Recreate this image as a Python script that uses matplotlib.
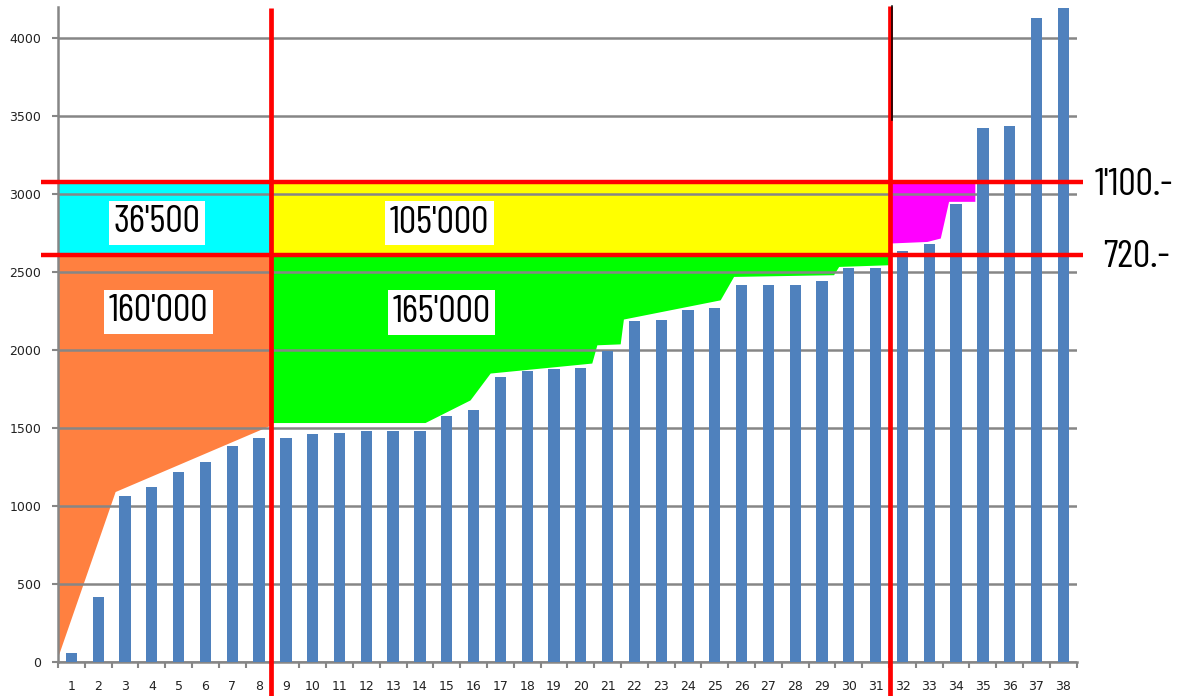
import numpy as np
import matplotlib
matplotlib.use("Agg")
import matplotlib.pyplot as plt
from matplotlib import font_manager

# bar heights (categories 1..38)
categories = [str(i) for i in range(1, 39)]
values = [60, 420, 1065, 1125, 1220, 1285, 1385, 1435, 1435, 1460,
          1468, 1485, 1485, 1485, 1575, 1615, 1830, 1863, 1878, 1885,
          1996, 2186, 2194, 2258, 2267, 2414, 2414, 2414, 2440, 2528,
          2528, 2638, 2679, 2936, 3421, 3436, 4128, 4194]

# price levels (horizontal red lines) and group borders (vertical red lines)
level_low = 2610
level_high = 3080
split_1 = 7.45
split_2 = 30.52

# lower edges of the coloured areas
orange_x = [-0.5, 1.63, split_1]
orange_low = [40, 1094, 1521]
green_x = [split_1, 13.19, 14.87, 15.62, 19.41, 19.60, 20.47, 20.59, 24.2, 24.7, 28.43, 28.62, split_2]
green_low = [1536, 1536, 1681, 1853, 1917, 2034, 2040, 2199, 2322, 2472, 2483, 2536, 2547]
magenta_x = [split_2, 31.91, 32.41, 32.72, 33.70]
magenta_low = [2686, 2696, 2718, 2953, 2953]

area_labels = ["36'500", "160'000", "105'000", "165'000"]
area_label_pos = [(3.19, 2815), (3.26, 2245), (13.74, 2813), (13.81, 2240)]
level_labels = ["1'100.-", "720.-"]

# narrow font for the big labels, if one is there
names = {f.name for f in font_manager.fontManager.ttflist}
big_font, big_size = 'DejaVu Sans', 18
for cand in ['Barlow Condensed', 'Archivo Narrow', 'Asap Condensed']:
    if cand in names:
        big_font, big_size = cand, 28
        break

fig = plt.figure(figsize=(11.77, 6.96), dpi=100)
ax = fig.add_axes([0.0493, 0.0484, 0.8655, 0.942])

x = np.arange(len(values))
grid_c = '#868686'

# coloured areas ##############################################################
ax.fill_between([-0.5, split_1], level_low, level_high, color='#00ffff', lw=0, zorder=1)
ax.fill_between(orange_x, orange_low, level_low, color='#ff8040', lw=0, zorder=1)
ax.fill_between([split_1, split_2], level_low, level_high, color='#ffff00', lw=0, zorder=1)
ax.fill_between(green_x, green_low, level_low, color='#00ff00', lw=0, zorder=1)
ax.fill_between(magenta_x, magenta_low, level_high, color='#ff00ff', lw=0, zorder=1)

# bars ########################################################################
ax.bar(x, values, width=0.42, color='#4f81bd', zorder=3)

ax.set_xlim(-0.5, len(values) - 0.5)
ax.set_ylim(0, 4200)
ax.set_yticks(np.arange(0, 4001, 500))
ax.yaxis.grid(True, color=grid_c, lw=1.8, zorder=2)

ax.set_xticks(x)
ax.set_xticklabels(categories)
ax.set_xticks(np.arange(-0.5, len(values)), minor=True)
ax.tick_params(axis='x', which='major', length=0, pad=13, labelsize=9, colors='#222222')
ax.tick_params(axis='x', which='minor', length=4, width=1.5, color=grid_c)
ax.tick_params(axis='y', length=4, width=1.5, color=grid_c, pad=8, labelsize=9, labelcolor='#222222')

for s in ['top', 'right']:
    ax.spines[s].set_visible(False)
for s in ['left', 'bottom']:
    ax.spines[s].set_color(grid_c)
    ax.spines[s].set_linewidth(1.8)

# red lines ###################################################################
for lv in [level_high, level_low]:
    ax.plot([-1.13, 37.73], [lv, lv], color='#ff0000', lw=3.2, clip_on=False, zorder=4,
            solid_capstyle='butt')
ax.plot([split_1, split_1], [-230, 4194], color='#ff0000', lw=3.4, clip_on=False, zorder=4,
        solid_capstyle='butt')
ax.plot([split_2, split_2], [-230, 4203], color='#ff0000', lw=3.4, clip_on=False, zorder=4,
        solid_capstyle='butt')
ax.plot([30.62, 30.62], [3476, 4203], color='black', lw=1.1, clip_on=False, zorder=4)

# labels ######################################################################
for lab, (lx, ly) in zip(area_labels, area_label_pos):
    ax.text(lx, ly, lab, ha='center', va='center', fontsize=big_size, family=big_font,
            zorder=5, bbox=dict(boxstyle='square,pad=0.12', fc='white', ec='none'))

ax.text(38.18, level_high - 25, level_labels[0], ha='left', va='center', fontsize=big_size,
        family=big_font, clip_on=False, zorder=5)
ax.text(38.48, level_low - 15, level_labels[1], ha='left', va='center', fontsize=big_size,
        family=big_font, clip_on=False, zorder=5)

plt.savefig("out.png", dpi=100)
